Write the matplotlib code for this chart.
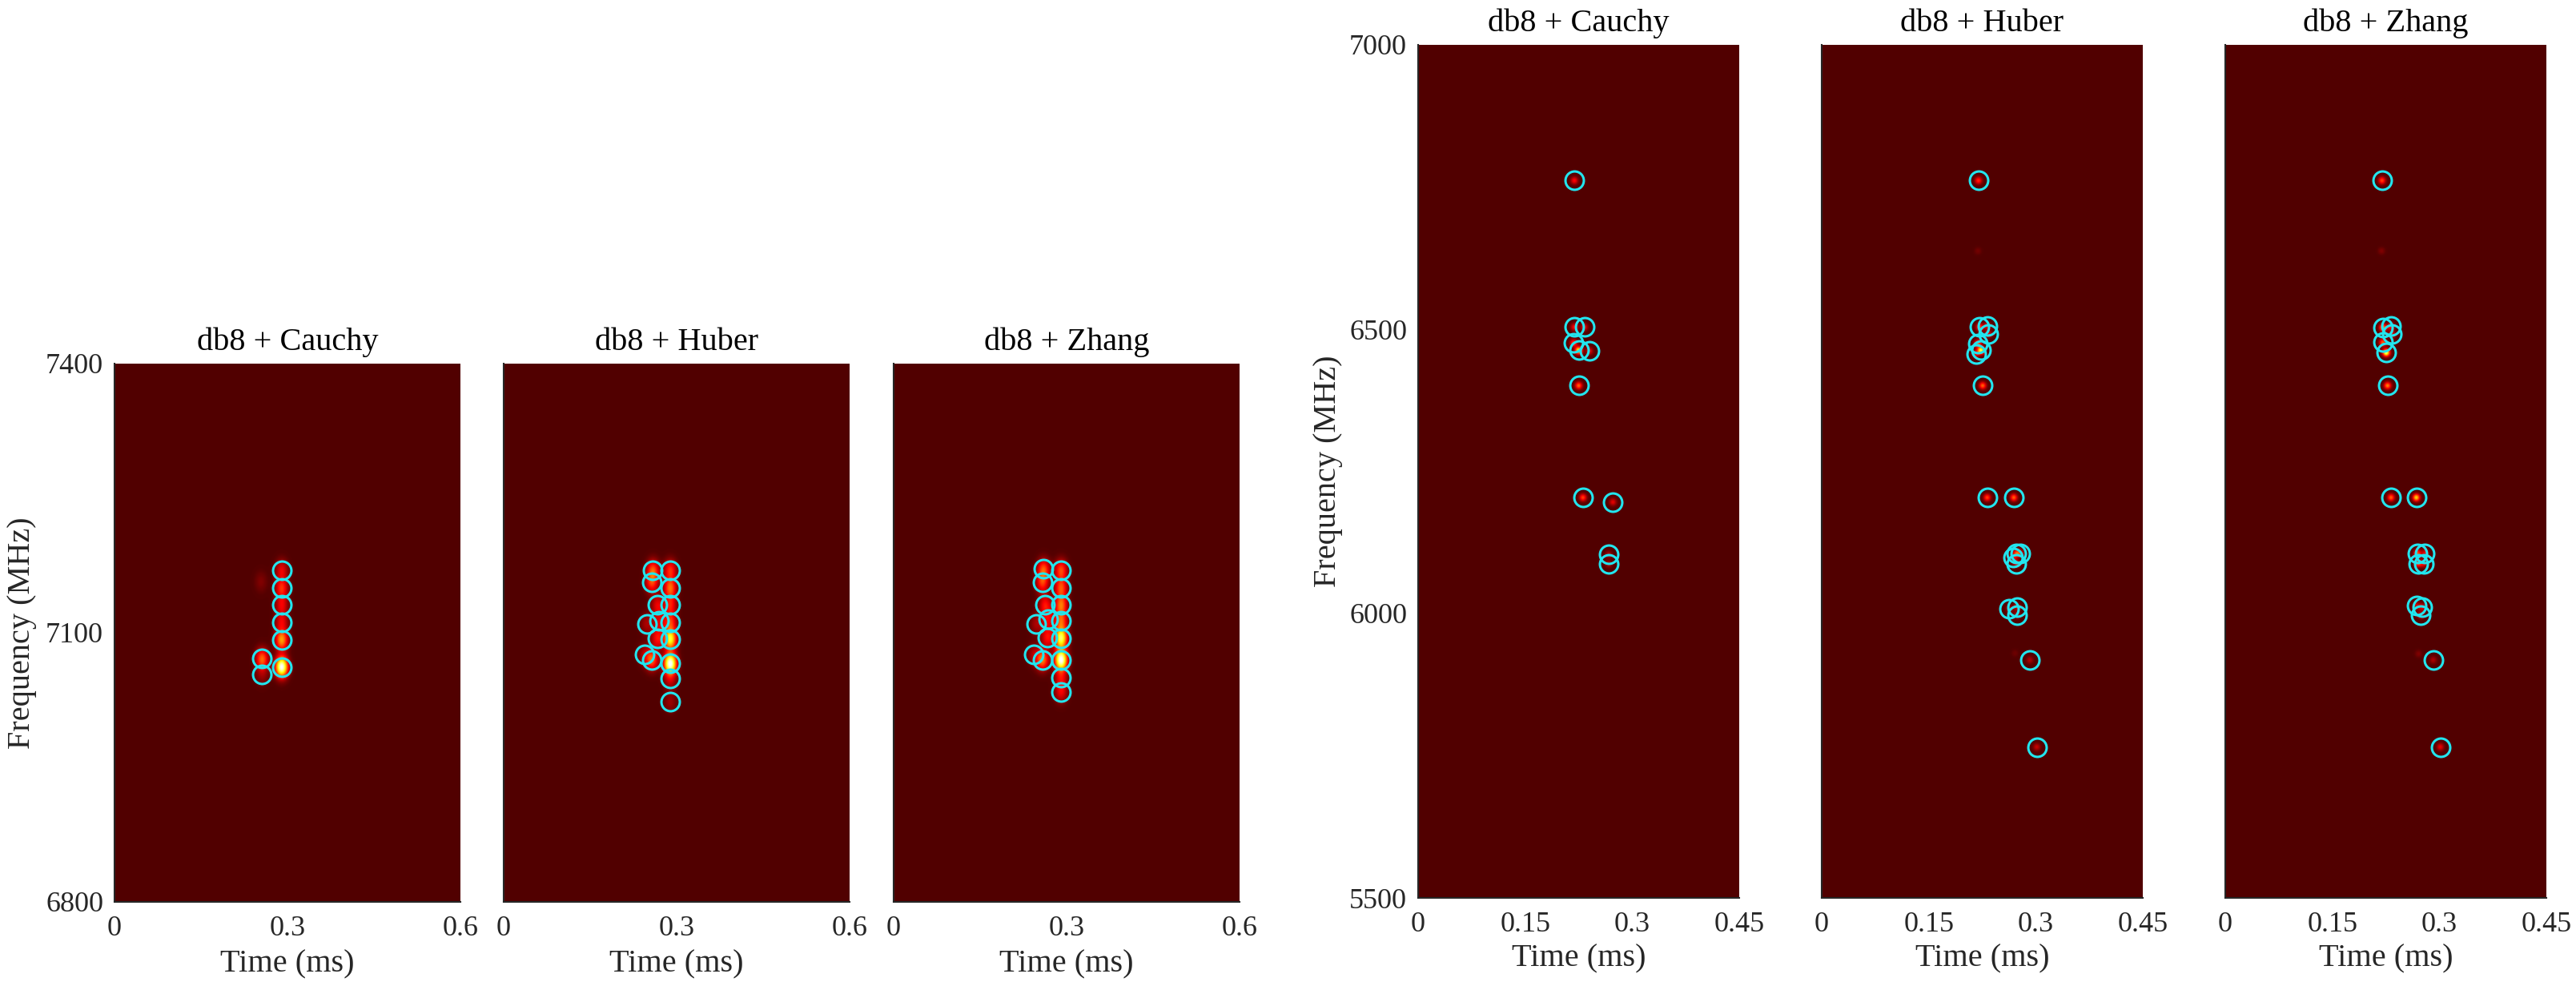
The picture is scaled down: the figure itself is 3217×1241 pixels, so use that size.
import numpy as np
import matplotlib
matplotlib.use("Agg")
from matplotlib import pyplot as plt
from matplotlib.colors import LinearSegmentedColormap

plt.rcParams['font.family'] = ['Liberation Serif', 'DejaVu Serif']

# Panel titles
TITLES = ["db8 + Cauchy", "db8 + Huber", "db8 + Zhang"]

# Left group: time 0-0.6 ms, frequency 6800-7400 MHz
LEFT_XTICKS = [0, 0.3, 0.6]
LEFT_XLABELS = ["0", "0.3", "0.6"]
LEFT_YTICKS = [6800, 7100, 7400]

L_CAUCHY_T = [0.290, 0.290, 0.290, 0.290, 0.290, 0.290, 0.256, 0.256]
L_CAUCHY_F = [7170, 7150, 7131, 7112, 7092, 7062, 7071, 7054]
L_CAUCHY_A = [0.25, 0.35, 0.25, 0.25, 0.55, 1.00, 0.45, 0.12]

L_HUBER_T = [0.289, 0.289, 0.289, 0.289, 0.289, 0.289, 0.289, 0.289,
             0.259, 0.257, 0.267, 0.270, 0.248, 0.267, 0.244, 0.257]
L_HUBER_F = [7170, 7150, 7131, 7112, 7093, 7066, 7049, 7023,
             7170, 7156, 7131, 7113, 7110, 7094, 7076, 7070]
L_HUBER_A = [0.35, 0.45, 0.30, 0.35, 0.75, 1.00, 0.20, 0.12,
             0.40, 0.35, 0.25, 0.20, 0.15, 0.30, 0.15, 0.45]

L_ZHANG_T = [0.2905, 0.2905, 0.2905, 0.2905, 0.2905, 0.2905, 0.2905, 0.2905,
             0.260, 0.258, 0.263, 0.268, 0.2475, 0.267, 0.243, 0.258]
L_ZHANG_F = [7170, 7150, 7131, 7113, 7094, 7070, 7050, 7034,
             7171, 7156, 7131, 7115, 7110, 7095, 7076, 7070]
L_ZHANG_A = [0.40, 0.40, 0.45, 0.40, 0.80, 1.00, 0.25, 0.25,
             0.40, 0.35, 0.30, 0.25, 0.15, 0.30, 0.15, 0.50]

# Right group: time 0-0.45 ms, frequency 5500-7000 MHz
RIGHT_XTICKS = [0, 0.15, 0.3, 0.45]
RIGHT_XLABELS = ["0", "0.15", "0.3", "0.45"]
RIGHT_YTICKS = [5500, 6000, 6500, 7000]

R_CAUCHY_T = [0.219, 0.219, 0.233, 0.218, 0.225, 0.240, 0.225, 0.231, 0.273, 0.267, 0.267]
R_CAUCHY_F = [6762, 6504, 6504, 6476, 6463, 6462, 6401, 6204, 6196, 6104, 6087]
R_CAUCHY_A = [0.30, 0.30, 0.25, 0.40, 0.75, 0.25, 0.45, 0.40, 0.25, 0.15, 0.15]

R_HUBER_T = [0.2196, 0.2214, 0.2319, 0.2338, 0.2188, 0.2233, 0.2162, 0.2256, 0.2319, 0.2693,
             0.2731, 0.268, 0.2787, 0.2731, 0.263, 0.2738, 0.2738, 0.2918, 0.3015]
R_HUBER_F = [6762, 6504, 6506, 6492, 6475, 6463, 6457, 6401, 6204, 6204,
             6106, 6098, 6106, 6088, 6008, 6011, 5997, 5918, 5765]
R_HUBER_A = [0.35, 0.40, 0.25, 0.25, 0.45, 0.80, 0.25, 0.45, 0.40, 0.45,
             0.40, 0.25, 0.25, 0.25, 0.15, 0.20, 0.15, 0.15, 0.20]

R_ZHANG_T = [0.2196, 0.221, 0.2319, 0.2338, 0.2207, 0.2256, 0.2274, 0.2323, 0.2678,
             0.2693, 0.2798, 0.2704, 0.278, 0.2678, 0.276, 0.2734, 0.2914, 0.3015]
R_ZHANG_F = [6762, 6503, 6505, 6491, 6477, 6459, 6401, 6204, 6204,
             6106, 6106, 6088, 6088, 6014, 6011, 5997, 5918, 5765]
R_ZHANG_A = [0.40, 0.55, 0.30, 0.25, 0.45, 0.85, 0.50, 0.45, 0.65,
             0.45, 0.25, 0.40, 0.25, 0.20, 0.25, 0.20, 0.15, 0.25]

# faint blobs without a circle: (time, freq, amp)
L_CAUCHY_EXTRA = [(0.254, 7157, 0.08)]
R_HUBER_EXTRA = [(0.219, 6638, 0.06), (0.271, 5930, 0.05)]
R_ZHANG_EXTRA = [(0.219, 6638, 0.08), (0.271, 5929, 0.08)]

CYAN = '#22E5EE'
AXCOL = '#262626'

hot = plt.get_cmap('hot')
CMAP = LinearSegmentedColormap.from_list('hot_cut', hot(np.linspace(0.106, 1.0, 256)))


def tf_image(t, f, a, extra, tmax, fmin, fmax, st, sf):
    tt = np.linspace(0, tmax, 700)
    ff = np.linspace(fmin, fmax, 1000)
    T, F = np.meshgrid(tt, ff)
    Z = np.zeros_like(T)
    pts = list(zip(t, f, a)) + list(extra)
    for t0, f0, a0 in pts:
        Z += a0 * np.exp(-((T - t0) ** 2 / (2 * st ** 2) + (F - f0) ** 2 / (2 * sf ** 2)))
    return np.clip(Z, 0, 1)


def panel(fig, rect, t, f, a, extra, title, tmax, fmin, fmax, xticks, xlabels,
          yticks, st, sf, first, ylab_x, xlab_y):
    ax = fig.add_axes(rect)
    Z = tf_image(t, f, a, extra, tmax, fmin, fmax, st, sf)
    ax.imshow(Z, extent=[0, tmax, fmin, fmax], origin='lower', aspect='auto',
              cmap=CMAP, vmin=0, vmax=1, interpolation='bilinear')
    ax.plot(t, f, 'o', mfc='none', mec=CYAN, ms=16.5, mew=2.2)
    ax.set_xlim(0, tmax)
    ax.set_ylim(fmin, fmax)
    ax.set_xticks(xticks)
    ax.set_xticklabels(xlabels)
    ax.tick_params(length=0, labelsize=26, colors=AXCOL, pad=12)
    ax.tick_params(axis='y', pad=10)
    if first:
        ax.set_yticks(yticks)
        ax.set_ylabel("Frequency (MHz)", fontsize=29, color=AXCOL)
        ax.yaxis.set_label_coords(ylab_x, 0.5)
    else:
        ax.set_yticks([])
    ax.set_xlabel("Time (ms)", fontsize=29, color=AXCOL)
    ax.xaxis.set_label_coords(0.5, xlab_y)
    ax.set_title(title, fontsize=29, pad=12)
    for s in ['top', 'right']:
        ax.spines[s].set_visible(False)
    for s in ['left', 'bottom']:
        ax.spines[s].set_color(AXCOL)
        ax.spines[s].set_linewidth(1.5)
    return ax


W, H = 3217, 1241
fig = plt.figure(figsize=(W / 100, H / 100), dpi=100)

left_x = [143, 629, 1116]
lw_px, ltop, lbot = 432, 454, 1126
right_x = [1771, 2275, 2779]
rw_px, rtop, rbot = 401, 56, 1121

left_data = [(L_CAUCHY_T, L_CAUCHY_F, L_CAUCHY_A, L_CAUCHY_EXTRA),
             (L_HUBER_T, L_HUBER_F, L_HUBER_A, []),
             (L_ZHANG_T, L_ZHANG_F, L_ZHANG_A, [])]
right_data = [(R_CAUCHY_T, R_CAUCHY_F, R_CAUCHY_A, []),
              (R_HUBER_T, R_HUBER_F, R_HUBER_A, R_HUBER_EXTRA),
              (R_ZHANG_T, R_ZHANG_F, R_ZHANG_A, R_ZHANG_EXTRA)]

for i, (x0, d) in enumerate(zip(left_x, left_data)):
    rect = [x0 / W, 1 - lbot / H, lw_px / W, (lbot - ltop) / H]
    panel(fig, rect, *d, TITLES[i], 0.6, 6800, 7400, LEFT_XTICKS, LEFT_XLABELS,
          LEFT_YTICKS, 0.0075, 8, i == 0, -0.2245, -0.088)

for i, (x0, d) in enumerate(zip(right_x, right_data)):
    rect = [x0 / W, 1 - rbot / H, rw_px / W, (rbot - rtop) / H]
    panel(fig, rect, *d, TITLES[i], 0.45, 5500, 7000, RIGHT_XTICKS, RIGHT_XLABELS,
          RIGHT_YTICKS, 0.0035, 4.5, i == 0, -0.234, -0.0535)

fig.savefig("out.png", dpi=100)
